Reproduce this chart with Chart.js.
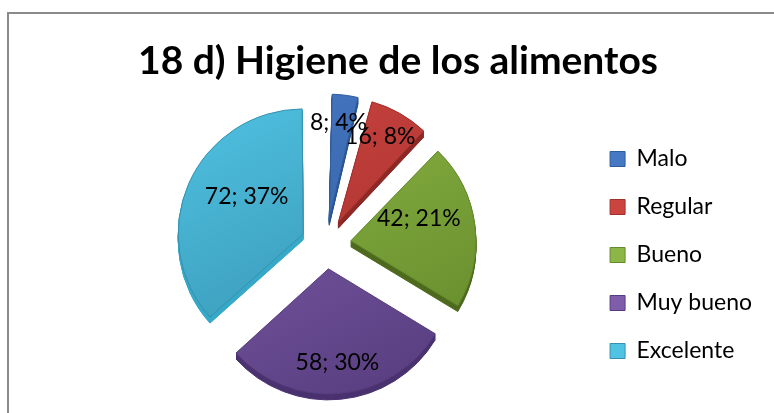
<!DOCTYPE html>
<html>
<head>
<meta charset="utf-8">
<script src="https://cdn.jsdelivr.net/npm/chart.js@4.4.1/dist/chart.umd.min.js"></script>
<style>
    html, body { margin: 0; padding: 0; background: #fff; }
    #wrap { width: 774px; height: 413px; position: relative; }
</style>
</head>
<body>
<div id="wrap"><canvas id="higieneChart"></canvas></div>
<script>
// Datos de la pregunta 18 d)
const categorias = ['Malo', 'Regular', 'Bueno', 'Muy bueno', 'Excelente'];
const respuestas = [8, 16, 42, 58, 72];
const tituloGrafico = '18 d) Higiene de los alimentos';

// Colores estilo Excel (claro, oscuro, lateral 3D)
const coloresClaros = ['#4678C4', '#CC4440', '#8CB646', '#7E5EAA', '#50C2E2'];
const coloresOscuros = ['#2F5C9C', '#A22F2C', '#648A2A', '#573C7E', '#3590AE'];
const coloresLado = ['#2A5490', '#8E2825', '#4E6A1E', '#4A3270', '#36A9C9'];

const total = respuestas.reduce((a, b) => a + b, 0);
const RADIO = 125;
const SEPARACION = 100; // Chart.js desplaza offset/4 px
const PROFUNDIDAD = 6;

// Degradado vertical por porción
function degradado(context) {
    const i = context.dataIndex;
    const chart = context.chart;
    const area = chart.chartArea;
    if (!area || i === undefined) return coloresClaros[i] || '#888';
    const cx = (area.left + area.right) / 2;
    const cy = (area.top + area.bottom) / 2;
    const g = chart.ctx.createLinearGradient(cx - 90, cy - 150, cx + 60, cy + 150);
    g.addColorStop(0, coloresClaros[i]);
    g.addColorStop(1, coloresOscuros[i]);
    return g;
}

// Marco gris y título
const marco = {
    id: 'marco',
    beforeDraw(chart) {
        const ctx = chart.ctx;
        ctx.save();
        ctx.strokeStyle = '#8a8a8a';
        ctx.lineWidth = 2;
        ctx.beginPath();
        ctx.moveTo(8, 413);
        ctx.lineTo(8, 13);
        ctx.lineTo(774, 13);
        ctx.stroke();
        ctx.fillStyle = '#000';
        ctx.font = 'bold 39px Lato';
        ctx.textAlign = 'center';
        ctx.textBaseline = 'alphabetic';
        ctx.fillText(tituloGrafico, 398, 74);
        ctx.restore();
    }
};

// Igualar radios: Chart.js agranda las porciones pequeñas al separarlas
const radioIgual = {
    id: 'radioIgual',
    afterDatasetUpdate(chart, args) {
        const meta = args.meta;
        meta.data.forEach((arc) => {
            const fix = 1 - Math.sin(Math.min(Math.PI, arc.circumference));
            arc.outerRadius = meta.controller.outerRadius - (SEPARACION / 4) * fix;
        });
    }
};

// Lado 3D: se dibuja cada porción desplazada hacia abajo, más oscura
const lado3d = {
    id: 'lado3d',
    beforeDatasetsDraw(chart) {
        const ctx = chart.ctx;
        const meta = chart.getDatasetMeta(0);
        meta.data.forEach((arc, i) => {
            const bg = arc.options.backgroundColor;
            const bc = arc.options.borderColor;
            arc.options.backgroundColor = coloresLado[i];
            arc.options.borderColor = coloresLado[i];
            for (let d = PROFUNDIDAD; d >= 1; d--) {
                ctx.save();
                ctx.translate(0, d);
                arc.draw(ctx);
                ctx.restore();
            }
            arc.options.backgroundColor = bg;
            arc.options.borderColor = bc;
        });
    }
};

// Etiquetas "valor; porcentaje"
const etiquetas = {
    id: 'etiquetas',
    afterDatasetsDraw(chart, args, opts) {
        const ctx = chart.ctx;
        const meta = chart.getDatasetMeta(0);
        ctx.save();
        ctx.font = opts.font;
        ctx.fillStyle = '#000';
        ctx.textAlign = 'center';
        ctx.textBaseline = 'middle';
        meta.data.forEach((arc, i) => {
            const p = arc.getProps(['x', 'y', 'startAngle', 'endAngle'], true);
            const mid = (p.startAngle + p.endAngle) / 2 + (opts.giro[i] || 0) * Math.PI / 180;
            const dist = SEPARACION / 4 + opts.radio[i] * RADIO;
            const v = respuestas[i];
            const texto = v + '; ' + Math.round(v / total * 100) + '%';
            ctx.fillText(texto, p.x + Math.cos(mid) * dist, p.y + Math.sin(mid) * dist);
        });
        ctx.restore();
    }
};

new Chart(document.getElementById('higieneChart'), {
    type: 'pie',
    data: {
        labels: categorias,
        datasets: [{
            data: respuestas,
            backgroundColor: degradado,
            borderColor: coloresOscuros,
            borderWidth: 1,
            offset: SEPARACION
        }]
    },
    options: {
        responsive: true,
        maintainAspectRatio: false,
        animation: false,
        events: [],
        radius: RADIO,
        layout: { padding: { left: 67, right: 12, top: 94, bottom: 19 } },
        plugins: {
            legend: {
                position: 'right',
                fullSize: false,
                title: { display: true, text: '', font: { size: 10 }, padding: 5 },
                labels: {
                    boxWidth: 15,
                    boxHeight: 15,
                    padding: 25,
                    color: '#000',
                    font: { family: 'Lato', size: 23 },
                    generateLabels: (chart) => categorias.map((c, i) => ({
                        text: c,
                        fillStyle: coloresClaros[i],
                        strokeStyle: coloresOscuros[i],
                        fontColor: '#000',
                        lineWidth: 1,
                        index: i
                    }))
                }
            },
            tooltip: { enabled: false },
            etiquetas: {
                font: '23px Lato',
                radio: [0.78, 0.76, 0.57, 0.75, 0.54],
                giro: [-1.5, -2.5, -8, 0, 7]
            }
        }
    },
    plugins: [marco, radioIgual, lado3d, etiquetas]
});
</script>
</body>
</html>
